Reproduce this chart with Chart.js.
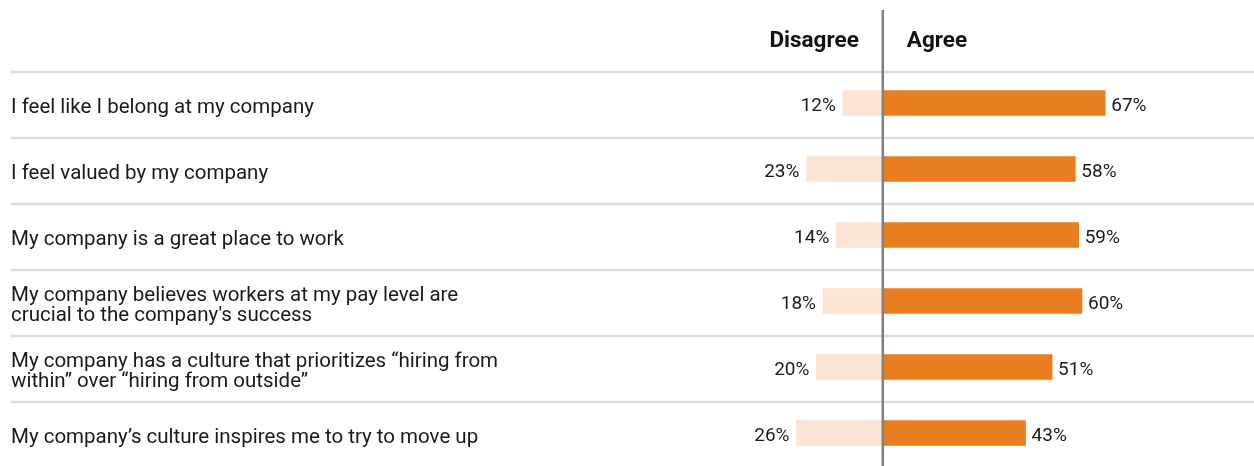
<!DOCTYPE html>
<html>
<head>
<meta charset="utf-8">
<script src="https://cdn.jsdelivr.net/npm/chart.js@4.4.1/dist/chart.umd.min.js"></script>
<style>
  html, body { margin: 0; padding: 0; background: #fff; }
  #wrap { width: 1254px; height: 466px; position: relative; }
</style>
</head>
<body>
<div id="wrap"><canvas id="chart"></canvas></div>
<script>
const categories = [
    'I feel like I belong at my company',
    'I feel valued by my company',
    'My company is a great place to work',
    ['My company believes workers at my pay level are', "crucial to the company's success"],
    ['My company has a culture that prioritizes \u201chiring from', 'within\u201d over \u201chiring from outside\u201d'],
    'My company\u2019s culture inspires me to try to move up'
];
const disagree = [12, 23, 14, 18, 20, 26];
const agree = [67, 58, 59, 60, 51, 43];
const headers = ['Disagree', 'Agree'];

const FONT = 'Roboto, "Liberation Sans", sans-serif';

const decor = {
    id: 'decor',
    beforeDatasetsDraw(chart) {
        const { ctx, scales: { y } } = chart;
        const half = (y.getPixelForValue(1) - y.getPixelForValue(0)) / 2;
        ctx.save();
        ctx.strokeStyle = '#dddddd';
        ctx.lineWidth = 2.5;
        categories.forEach((c, i) => {
            const py = y.getPixelForValue(i) - half + 2;
            ctx.beginPath();
            ctx.moveTo(11, py);
            ctx.lineTo(chart.width, py);
            ctx.stroke();
        });
        ctx.restore();
    },
    afterDatasetsDraw(chart) {
        const { ctx, scales: { x } } = chart;
        const zero = x.getPixelForValue(0);
        ctx.save();
        // value labels
        ctx.font = '19px ' + FONT;
        ctx.fillStyle = '#1a1a1a';
        ctx.textBaseline = 'middle';
        chart.getDatasetMeta(0).data.forEach((bar, i) => {
            ctx.textAlign = 'right';
            ctx.fillText(disagree[i] + '%', bar.x - 7, bar.y + 3);
        });
        chart.getDatasetMeta(1).data.forEach((bar, i) => {
            ctx.textAlign = 'left';
            ctx.fillText(agree[i] + '%', bar.x + 6, bar.y + 3);
        });
        // headers
        ctx.font = 'bold 22.5px ' + FONT;
        ctx.fillStyle = '#111';
        ctx.textBaseline = 'alphabetic';
        ctx.textAlign = 'right';
        ctx.fillText(headers[0], zero - 24, 47);
        ctx.textAlign = 'left';
        ctx.fillText(headers[1], zero + 24, 47);
        // center axis line
        ctx.strokeStyle = '#808080';
        ctx.lineWidth = 2.5;
        ctx.beginPath();
        ctx.moveTo(zero, 10);
        ctx.lineTo(zero, chart.height);
        ctx.stroke();
        ctx.restore();
    }
};

new Chart(document.getElementById('chart'), {
    type: 'bar',
    data: {
        labels: categories,
        datasets: [
            {
                label: headers[0],
                data: disagree.map(v => -v),
                backgroundColor: '#fae4d3',
                barThickness: 25
            },
            {
                label: headers[1],
                data: agree,
                backgroundColor: '#e87e20',
                barThickness: 25
            }
        ]
    },
    options: {
        indexAxis: 'y',
        responsive: true,
        maintainAspectRatio: false,
        animation: false,
        layout: { padding: { left: 11, right: 6, top: 70, bottom: 0 } },
        plugins: {
            legend: { display: false },
            tooltip: { enabled: false }
        },
        scales: {
            x: {
                stacked: true,
                min: -40,
                max: 110,
                display: false
            },
            y: {
                stacked: true,
                grid: { display: false },
                border: { display: false },
                afterFit(scale) {
                    scale.width = 739;
                    scale.paddingTop = 0;
                    scale.paddingBottom = 0;
                },
                ticks: {
                    crossAlign: 'far',
                    color: '#1a1a1a',
                    labelOffset: 5,
                    font: { family: FONT, size: 20.5, lineHeight: 0.95 }
                }
            }
        }
    },
    plugins: [decor]
});
</script>
</body>
</html>
